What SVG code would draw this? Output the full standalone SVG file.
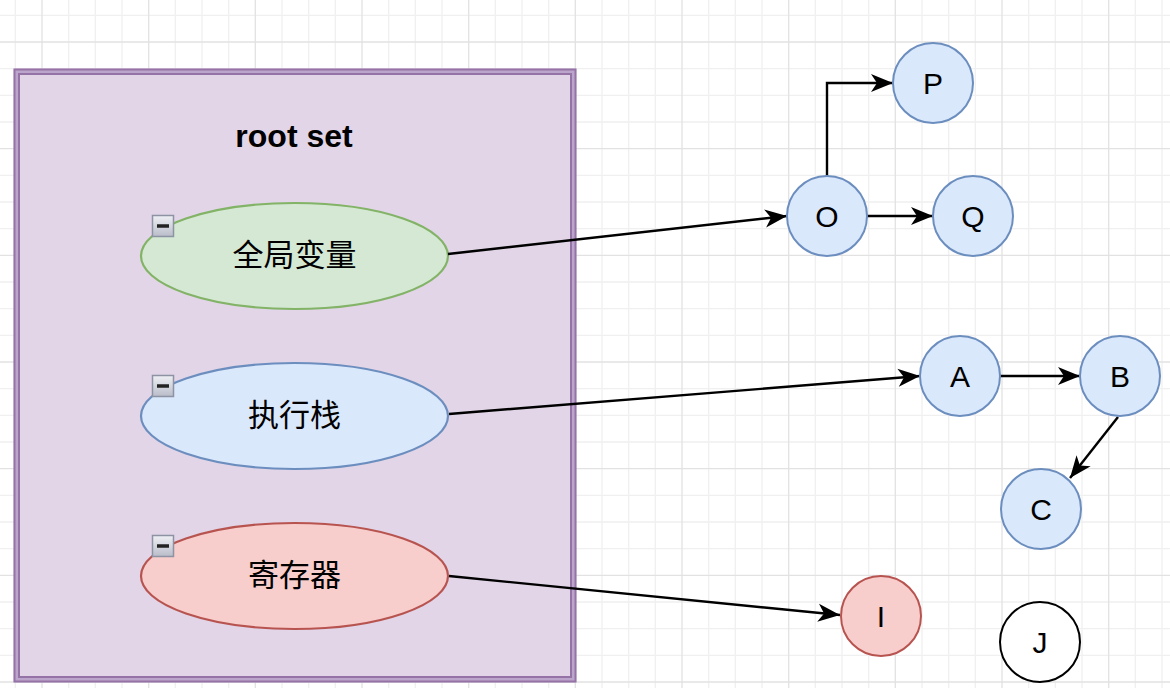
<svg xmlns="http://www.w3.org/2000/svg" width="1170" height="688" viewBox="0 0 1170 688">
<style>
.minor{stroke:#f0f0f0;stroke-width:1.3;fill:none}
.major{stroke:#e2e2e2;stroke-width:1.3;fill:none}
.edge{stroke:#000;stroke-width:2.4;fill:none}
.cjk{font-family:"Liberation Sans","Noto Sans CJK SC",sans-serif;font-size:31px;fill:#000;text-anchor:middle}
.lbl{font-family:"Liberation Sans",Arial,sans-serif;font-size:30px;fill:#000;text-anchor:middle}
.node{fill:#dae8fc;stroke:#6c8ebf;stroke-width:2}
.tog rect{fill:url(#togGrad);stroke:#8d93a3;stroke-width:1.5}
.tog line{stroke:#222;stroke-width:3.5}
</style>
<defs>
<linearGradient id="togGrad" x1="0" y1="0" x2="0" y2="1">
<stop offset="0" stop-color="#eef0f4"/>
<stop offset="1" stop-color="#b9bdc9"/>
</linearGradient>
<marker id="arr" markerUnits="userSpaceOnUse" markerWidth="26" markerHeight="22" refX="23" refY="11" orient="auto" viewBox="0 0 26 22">
<path d="M23,11 L1,2 L7,11 L1,20 Z" fill="#000"/>
</marker>
</defs>
<rect width="1170" height="688" fill="#fff"/>
<g id="grid">
<path class="minor" d="M15.3,0V688M68.7,0V688M95.3,0V688M122,0V688M175.3,0V688M202,0V688M228.7,0V688M282,0V688M308.7,0V688M335.3,0V688M388.7,0V688M415.3,0V688M442,0V688M495.3,0V688M522,0V688M548.7,0V688M602,0V688M628.7,0V688M655.3,0V688M708.7,0V688M735.3,0V688M762,0V688M815.3,0V688M842,0V688M868.7,0V688M922,0V688M948.7,0V688M975.3,0V688M1028.7,0V688M1055.3,0V688M1082,0V688M1135.3,0V688M1162,0V688M0,15.3H1170M0,68.7H1170M0,95.3H1170M0,122H1170M0,175.3H1170M0,202H1170M0,228.7H1170M0,282H1170M0,308.7H1170M0,335.3H1170M0,388.7H1170M0,415.3H1170M0,442H1170M0,495.3H1170M0,522H1170M0,548.7H1170M0,602H1170M0,628.7H1170M0,655.3H1170"/>
<path class="major" d="M42,0V688M148.7,0V688M255.3,0V688M362,0V688M468.7,0V688M575.3,0V688M682,0V688M788.7,0V688M895.3,0V688M1002,0V688M1108.7,0V688M0,42H1170M0,148.7H1170M0,255.3H1170M0,362H1170M0,468.7H1170M0,575.3H1170M0,682H1170"/>
</g>
<g id="rootset">
<rect x="16.5" y="71.5" width="557" height="608" fill="#e1d5e7" stroke="#bba5ca" stroke-width="5.5"/>
<rect x="14.5" y="69.5" width="561" height="612" fill="none" stroke="#9673a6" stroke-width="2"/>
<rect x="19" y="74" width="552" height="603" fill="none" stroke="#9673a6" stroke-width="2"/>
<text x="294" y="147" font-family="Liberation Sans,Arial,sans-serif" font-size="32" font-weight="bold" text-anchor="middle">root set</text>
</g>
<g id="global">
<ellipse cx="294.5" cy="256" rx="153.5" ry="53" fill="#d5e8d4" stroke="#82b366" stroke-width="2.2"/>
<text class="cjk" x="294.5" y="266">全局变量</text>
<g class="tog"><rect x="152.5" y="215.5" width="21" height="21"/><line x1="157" y1="226" x2="169" y2="226"/></g>
</g>
<g id="stack">
<ellipse cx="294.5" cy="416" rx="153.5" ry="53" fill="#dae8fc" stroke="#6c8ebf" stroke-width="2.2"/>
<text class="cjk" x="294.5" y="426">执行栈</text>
<g class="tog"><rect x="152.5" y="375.5" width="21" height="21"/><line x1="157" y1="386" x2="169" y2="386"/></g>
</g>
<g id="register">
<ellipse cx="294.5" cy="576" rx="153.5" ry="53" fill="#f8cecc" stroke="#b85450" stroke-width="2.2"/>
<text class="cjk" x="294.5" y="586">寄存器</text>
<g class="tog"><rect x="152.5" y="535.5" width="21" height="21"/><line x1="157" y1="546" x2="169" y2="546"/></g>
</g>
<g id="connectors">
<path class="edge" d="M448,254 L787,216" marker-end="url(#arr)"/>
<path class="edge" d="M827,176 V83 H893" marker-end="url(#arr)"/>
<path class="edge" d="M867,216 H933" marker-end="url(#arr)"/>
<path class="edge" d="M449,414 L920,376" marker-end="url(#arr)"/>
<path class="edge" d="M1000,376 H1080" marker-end="url(#arr)"/>
<path class="edge" d="M1118,417 L1070,478" marker-end="url(#arr)"/>
<path class="edge" d="M449,576 L840,615" marker-end="url(#arr)"/>
</g>
<g id="nodeP"><circle class="node" cx="933" cy="83" r="40"/><text class="lbl" x="933" y="94">P</text></g>
<g id="nodeO"><circle class="node" cx="827" cy="216" r="40"/><text class="lbl" x="827" y="227">O</text></g>
<g id="nodeQ"><circle class="node" cx="973" cy="216" r="40"/><text class="lbl" x="973" y="227">Q</text></g>
<g id="nodeA"><circle class="node" cx="960" cy="376" r="40"/><text class="lbl" x="960" y="387">A</text></g>
<g id="nodeB"><circle class="node" cx="1120" cy="376" r="40"/><text class="lbl" x="1120" y="387">B</text></g>
<g id="nodeC"><circle class="node" cx="1041" cy="509" r="40"/><text class="lbl" x="1041" y="520">C</text></g>
<g id="nodeI"><circle cx="881" cy="616" r="40" fill="#f8cecc" stroke="#b85450" stroke-width="2"/><text class="lbl" x="881" y="627">I</text></g>
<g id="nodeJ"><circle cx="1040" cy="642" r="40" fill="#fff" stroke="#000" stroke-width="2"/><text class="lbl" x="1040" y="653">J</text></g>
</svg>
